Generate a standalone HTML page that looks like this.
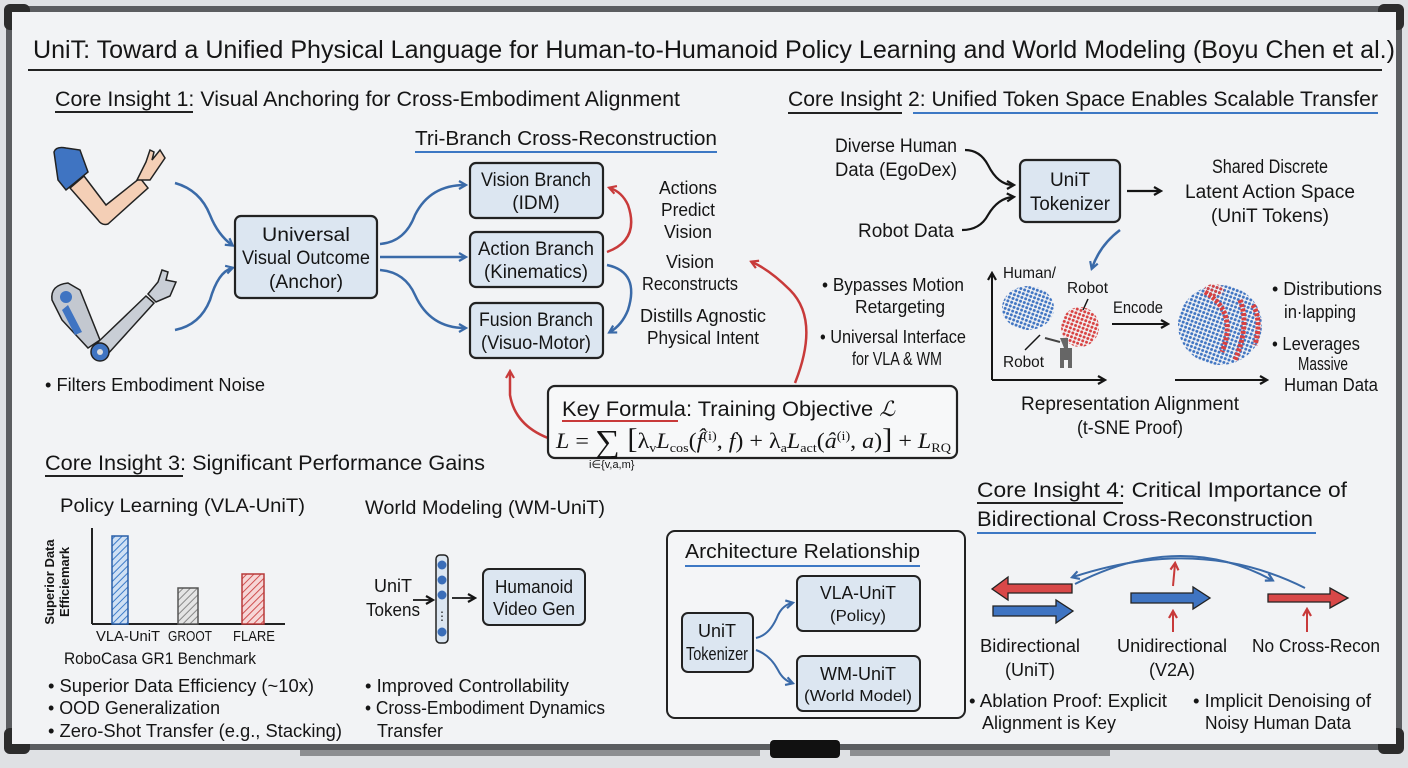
<!DOCTYPE html>
<html><head><meta charset="utf-8"><style>
html,body{margin:0;padding:0;background:#e9ebee;}
svg{display:block;}
text{font-family:"Liberation Sans Narrow","Liberation Sans",sans-serif;fill:#151515;}
</style></head><body>
<svg width="1408" height="768" viewBox="0 0 1408 768" xmlns="http://www.w3.org/2000/svg">
<defs>
<marker id="ab" markerWidth="10" markerHeight="10" refX="7" refY="5" orient="auto" markerUnits="userSpaceOnUse"><path d="M1,1 L8,5 L1,9" fill="none" stroke="#3a6aa8" stroke-width="2.2"/></marker>
<marker id="ar" markerWidth="10" markerHeight="10" refX="7" refY="5" orient="auto" markerUnits="userSpaceOnUse"><path d="M1,1 L8,5 L1,9" fill="none" stroke="#c83a3a" stroke-width="2.2"/></marker>
<marker id="ak" markerWidth="10" markerHeight="10" refX="7" refY="5" orient="auto" markerUnits="userSpaceOnUse"><path d="M1,1 L8,5 L1,9" fill="none" stroke="#151515" stroke-width="2.2"/></marker>
<pattern id="hb" width="5" height="5" patternUnits="userSpaceOnUse" patternTransform="rotate(45)"><rect width="5" height="5" fill="#cfe0f4"/><line x1="0" y1="0" x2="0" y2="5" stroke="#3d7cc9" stroke-width="2"/></pattern>
<pattern id="hg" width="5" height="5" patternUnits="userSpaceOnUse" patternTransform="rotate(45)"><rect width="5" height="5" fill="#e4e4e4"/><line x1="0" y1="0" x2="0" y2="5" stroke="#888" stroke-width="2"/></pattern>
<pattern id="hr" width="5" height="5" patternUnits="userSpaceOnUse" patternTransform="rotate(45)"><rect width="5" height="5" fill="#f6d6d6"/><line x1="0" y1="0" x2="0" y2="5" stroke="#d05050" stroke-width="2"/></pattern>
<pattern id="db" width="4" height="4" patternUnits="userSpaceOnUse" patternTransform="rotate(20)"><circle cx="2" cy="2" r="1.5" fill="#3f74c2"/></pattern>
<pattern id="dr" width="4" height="4" patternUnits="userSpaceOnUse" patternTransform="rotate(20)"><circle cx="2" cy="2" r="1.5" fill="#d84040"/></pattern>
</defs>
<!-- board -->
<rect x="0" y="0" width="1408" height="768" fill="#dfe1e4"/>
<rect x="6" y="6" width="1396" height="744" rx="6" fill="#5b5d60"/>
<rect x="4" y="4" width="26" height="26" rx="6" fill="#2c2c2c"/>
<rect x="1378" y="4" width="26" height="26" rx="6" fill="#2c2c2c"/>
<rect x="4" y="728" width="26" height="26" rx="6" fill="#2c2c2c"/>
<rect x="1378" y="728" width="26" height="26" rx="6" fill="#2c2c2c"/>
<rect x="12" y="12" width="1384" height="732" fill="#f2f3f5"/>
<rect x="300" y="750" width="460" height="6" fill="#8c8e91"/>
<rect x="850" y="750" width="260" height="6" fill="#8c8e91"/>
<rect x="770" y="740" width="70" height="18" rx="4" fill="#111"/>

<!-- title -->
<text x="33" y="58" font-size="25" textLength="1362" lengthAdjust="spacingAndGlyphs">UniT: Toward a Unified Physical Language for Human-to-Humanoid Policy Learning and World Modeling (Boyu Chen et al.)</text>
<line x1="28" y1="70" x2="1382" y2="70" stroke="#222" stroke-width="2"/>

<!-- CI1 -->
<text x="55" y="106" font-size="21" textLength="625" lengthAdjust="spacingAndGlyphs">Core Insight 1: Visual Anchoring for Cross-Embodiment Alignment</text>
<line x1="55" y1="112" x2="193" y2="112" stroke="#222" stroke-width="2"/>
<text x="415" y="145" font-size="20" textLength="302" lengthAdjust="spacingAndGlyphs">Tri-Branch Cross-Reconstruction</text>
<line x1="415" y1="152" x2="717" y2="152" stroke="#3d78c4" stroke-width="2"/>

<!-- human arm -->
<path d="M70,188 L84,176 L106,205 L140,178 L148,188 L108,224 Q102,226 98,220 Z" fill="#f4cfb6" stroke="#222" stroke-width="1.5"/>
<path d="M137,180 L146,162 L150,150 L154,152 L152,160 L160,150 L165,158 L150,180 Z" fill="#f4cfb6" stroke="#222" stroke-width="1.5"/>
<path d="M54,152 Q56,146 66,148 L80,150 L88,172 L66,190 L58,180 Z" fill="#3f74c2" stroke="#222" stroke-width="1.5"/>
<!-- robot arm -->
<path d="M52,300 Q50,285 68,283 L80,290 L100,340 L88,348 L62,320 Z" fill="#c3c8d0" stroke="#222" stroke-width="1.5"/>
<circle cx="66" cy="297" r="6" fill="#3f74c2"/>
<path d="M62,310 L75,335 L82,332 L68,305 Z" fill="#3f74c2"/>
<path d="M96,344 L146,296 L154,303 L106,356 Z" fill="#c9ced6" stroke="#222" stroke-width="1.5"/>
<circle cx="100" cy="352" r="9" fill="#3f74c2" stroke="#222" stroke-width="1.5"/>
<circle cx="100" cy="352" r="3" fill="#ddd"/>
<path d="M148,294 L158,282 L162,270 L168,272 L166,280 L176,282 L170,296 L156,302 Z" fill="#c9ced6" stroke="#222" stroke-width="1.5"/>
<text x="45" y="391" font-size="18" textLength="220" lengthAdjust="spacingAndGlyphs">• Filters Embodiment Noise</text>

<path d="M175,183 Q200,190 210,215 Q218,235 232,245" fill="none" stroke="#3a6aa8" stroke-width="2.5" marker-end="url(#ab)"/>
<path d="M175,330 Q200,325 210,300 Q218,272 232,268" fill="none" stroke="#3a6aa8" stroke-width="2.5" marker-end="url(#ab)"/>

<rect x="235" y="216" width="142" height="82" rx="6" fill="#dce6f1" stroke="#222" stroke-width="2.2"/>
<text x="306" y="241" font-size="19" text-anchor="middle" textLength="88" lengthAdjust="spacingAndGlyphs">Universal</text>
<text x="306" y="264" font-size="19" text-anchor="middle" textLength="128" lengthAdjust="spacingAndGlyphs">Visual Outcome</text>
<text x="306" y="288" font-size="19" text-anchor="middle" textLength="74" lengthAdjust="spacingAndGlyphs">(Anchor)</text>

<rect x="470" y="163" width="133" height="55" rx="6" fill="#dce6f1" stroke="#222" stroke-width="2.2"/>
<text x="536" y="186" font-size="19" text-anchor="middle" textLength="110" lengthAdjust="spacingAndGlyphs">Vision Branch</text>
<text x="536" y="209" font-size="19" text-anchor="middle">(IDM)</text>
<rect x="470" y="232" width="133" height="55" rx="6" fill="#dce6f1" stroke="#222" stroke-width="2.2"/>
<text x="536" y="255" font-size="19" text-anchor="middle" textLength="116" lengthAdjust="spacingAndGlyphs">Action Branch</text>
<text x="536" y="278" font-size="19" text-anchor="middle" textLength="104" lengthAdjust="spacingAndGlyphs">(Kinematics)</text>
<rect x="470" y="303" width="133" height="55" rx="6" fill="#dce6f1" stroke="#222" stroke-width="2.2"/>
<text x="536" y="326" font-size="19" text-anchor="middle" textLength="114" lengthAdjust="spacingAndGlyphs">Fusion Branch</text>
<text x="536" y="349" font-size="19" text-anchor="middle" textLength="110" lengthAdjust="spacingAndGlyphs">(Visuo-Motor)</text>

<path d="M380,244 Q405,242 415,215 Q430,185 465,185" fill="none" stroke="#3a6aa8" stroke-width="2.5" marker-end="url(#ab)"/>
<path d="M380,257 L465,257" fill="none" stroke="#3a6aa8" stroke-width="2.5" marker-end="url(#ab)"/>
<path d="M380,270 Q405,272 415,295 Q430,328 465,328" fill="none" stroke="#3a6aa8" stroke-width="2.5" marker-end="url(#ab)"/>

<path d="M607,252 Q640,240 628,205 Q622,192 610,188" fill="none" stroke="#c83a3a" stroke-width="2.5" marker-end="url(#ar)"/>
<path d="M607,265 Q640,272 628,310 Q622,325 610,332" fill="none" stroke="#3a6aa8" stroke-width="2.5" marker-end="url(#ab)"/>

<g font-size="18" text-anchor="middle">
<text x="688" y="194" textLength="58" lengthAdjust="spacingAndGlyphs">Actions</text><text x="688" y="216" textLength="54" lengthAdjust="spacingAndGlyphs">Predict</text><text x="688" y="238" textLength="48" lengthAdjust="spacingAndGlyphs">Vision</text>
<text x="690" y="268" textLength="48" lengthAdjust="spacingAndGlyphs">Vision</text><text x="690" y="290" textLength="96" lengthAdjust="spacingAndGlyphs">Reconstructs</text>
<text x="703" y="322" textLength="126" lengthAdjust="spacingAndGlyphs">Distills Agnostic</text><text x="703" y="344" textLength="112" lengthAdjust="spacingAndGlyphs">Physical Intent</text>
</g>

<path d="M795,383 Q820,320 790,290 Q770,270 752,262" fill="none" stroke="#c83a3a" stroke-width="2.5" marker-end="url(#ar)"/>
<path d="M548,438 Q515,425 510,395 L510,372" fill="none" stroke="#c83a3a" stroke-width="2.5" marker-end="url(#ar)"/>

<!-- formula -->
<rect x="548" y="386" width="409" height="72" rx="7" fill="#f7f8f9" stroke="#222" stroke-width="2.2"/>
<text x="562" y="416" font-size="21" textLength="333" lengthAdjust="spacingAndGlyphs">Key Formula: Training Objective <tspan font-family="Liberation Serif" font-style="italic">ℒ</tspan></text>
<line x1="562" y1="421" x2="678" y2="421" stroke="#c83a3a" stroke-width="2"/>
<text x="556" y="448" font-size="22" textLength="395" lengthAdjust="spacingAndGlyphs" style="font-family:'Liberation Serif',serif"><tspan font-style="italic">L</tspan> =  <tspan font-size="32" dy="4">∑</tspan><tspan dy="-4" font-size="28">   [</tspan>λ<tspan font-size="13" dy="4">v</tspan><tspan dy="-4" font-style="italic">L</tspan><tspan font-size="13" dy="4">cos</tspan><tspan dy="-4">(</tspan><tspan font-style="italic">f̂</tspan><tspan font-size="13" dy="-8">(i)</tspan><tspan dy="8">, </tspan><tspan font-style="italic">f</tspan>) + λ<tspan font-size="13" dy="4">a</tspan><tspan dy="-4" font-style="italic">L</tspan><tspan font-size="13" dy="4">act</tspan><tspan dy="-4">(</tspan><tspan font-style="italic">â</tspan><tspan font-size="13" dy="-8">(i)</tspan><tspan dy="8">, </tspan><tspan font-style="italic">a</tspan>)<tspan font-size="28">]</tspan> + <tspan font-style="italic">L</tspan><tspan font-size="13" dy="4">RQ</tspan></text>
<text x="589" y="468" font-size="11" style="font-family:'Liberation Sans',sans-serif">i∈{v,a,m}</text>

<!-- CI2 -->
<text x="788" y="106" font-size="21" textLength="590" lengthAdjust="spacingAndGlyphs">Core Insight 2: Unified Token Space Enables Scalable Transfer</text>
<line x1="788" y1="113" x2="902" y2="113" stroke="#222" stroke-width="2"/>
<line x1="913" y1="113" x2="1378" y2="113" stroke="#3d78c4" stroke-width="2"/>

<text x="896" y="152" font-size="19" text-anchor="middle" textLength="122" lengthAdjust="spacingAndGlyphs">Diverse Human</text>
<text x="896" y="176" font-size="19" text-anchor="middle" textLength="122" lengthAdjust="spacingAndGlyphs">Data (EgoDex)</text>
<text x="906" y="237" font-size="19" text-anchor="middle" textLength="96" lengthAdjust="spacingAndGlyphs">Robot Data</text>
<path d="M965,150 Q980,150 988,165 Q998,185 1013,185" fill="none" stroke="#151515" stroke-width="2.2" marker-end="url(#ak)"/>
<path d="M962,230 Q980,230 988,215 Q998,198 1013,197" fill="none" stroke="#151515" stroke-width="2.2" marker-end="url(#ak)"/>
<rect x="1020" y="160" width="100" height="62" rx="6" fill="#dce6f1" stroke="#222" stroke-width="2.2"/>
<text x="1070" y="186" font-size="19" text-anchor="middle">UniT</text>
<text x="1070" y="210" font-size="19" text-anchor="middle" textLength="80" lengthAdjust="spacingAndGlyphs">Tokenizer</text>
<path d="M1127,191 L1160,191" stroke="#151515" stroke-width="2.2" marker-end="url(#ak)"/>
<text x="1270" y="173" font-size="19" text-anchor="middle" textLength="116" lengthAdjust="spacingAndGlyphs">Shared Discrete</text>
<text x="1270" y="198" font-size="19" text-anchor="middle" textLength="170" lengthAdjust="spacingAndGlyphs">Latent Action Space</text>
<text x="1270" y="222" font-size="19" text-anchor="middle" textLength="118" lengthAdjust="spacingAndGlyphs">(UniT Tokens)</text>
<path d="M1120,230 Q1100,245 1092,268" fill="none" stroke="#3a6aa8" stroke-width="2.5" marker-end="url(#ab)"/>

<g font-size="18" text-anchor="middle">
<text x="893" y="291" textLength="142" lengthAdjust="spacingAndGlyphs">• Bypasses Motion</text><text x="900" y="313" textLength="90" lengthAdjust="spacingAndGlyphs">Retargeting</text>
<text x="893" y="343" textLength="146" lengthAdjust="spacingAndGlyphs">• Universal Interface</text><text x="897" y="365" textLength="90" lengthAdjust="spacingAndGlyphs">for VLA &amp; WM</text>
</g>
<path d="M992,380 L992,274" stroke="#151515" stroke-width="2" marker-end="url(#ak)"/>
<path d="M992,380 L1104,380" stroke="#151515" stroke-width="2" marker-end="url(#ak)"/>
<text x="1003" y="278" font-size="16" textLength="53" lengthAdjust="spacingAndGlyphs">Human/</text>
<text x="1067" y="293" font-size="16" textLength="41" lengthAdjust="spacingAndGlyphs">Robot</text>
<text x="1003" y="367" font-size="16" textLength="41" lengthAdjust="spacingAndGlyphs">Robot</text>
<line x1="1088" y1="299" x2="1083" y2="310" stroke="#151515" stroke-width="1.5"/>
<line x1="1025" y1="350" x2="1040" y2="335" stroke="#151515" stroke-width="1.5"/>
<ellipse cx="1028" cy="308" rx="26" ry="22" fill="url(#db)"/>
<ellipse cx="1080" cy="327" rx="19" ry="20" fill="url(#dr)"/>
<path d="M1060,338 l8,0 l0,10 l4,0 l0,20 l-4,0 l0,-8 l-4,0 l0,8 l-4,0 l0,-20 l4,0 z" fill="#666"/>
<line x1="1045" y1="338" x2="1060" y2="342" stroke="#444" stroke-width="2"/>
<text x="1113" y="313" font-size="17" textLength="50" lengthAdjust="spacingAndGlyphs">Encode</text>
<path d="M1112,324 L1167,324" stroke="#151515" stroke-width="2" marker-end="url(#ak)"/>
<ellipse cx="1220" cy="325" rx="42" ry="40" fill="url(#db)"/>
<path d="M1205,292 Q1238,312 1222,352 M1240,300 Q1250,325 1235,360 M1253,305 Q1262,320 1255,345" fill="none" stroke="#d84040" stroke-width="5" stroke-dasharray="3 1.5"/>
<ellipse cx="1214" cy="290" rx="10" ry="6" fill="url(#dr)"/>
<path d="M1175,380 L1266,380" stroke="#151515" stroke-width="2" marker-end="url(#ak)"/>
<g font-size="18">
<text x="1272" y="295" textLength="110" lengthAdjust="spacingAndGlyphs">• Distributions</text><text x="1284" y="318" textLength="72" lengthAdjust="spacingAndGlyphs">in·lapping</text>
<text x="1272" y="350" textLength="88" lengthAdjust="spacingAndGlyphs">• Leverages</text><text x="1298" y="370" textLength="50" lengthAdjust="spacingAndGlyphs">Massive</text><text x="1284" y="391" textLength="94" lengthAdjust="spacingAndGlyphs">Human Data</text>
</g>
<text x="1130" y="410" font-size="19" text-anchor="middle" textLength="218" lengthAdjust="spacingAndGlyphs">Representation Alignment</text>
<text x="1130" y="434" font-size="19" text-anchor="middle" textLength="106" lengthAdjust="spacingAndGlyphs">(t-SNE Proof)</text>

<!-- CI3 -->
<text x="45" y="470" font-size="21" textLength="440" lengthAdjust="spacingAndGlyphs">Core Insight 3: Significant Performance Gains</text>
<line x1="45" y1="476" x2="183" y2="476" stroke="#222" stroke-width="2"/>
<text x="60" y="512" font-size="19" textLength="245" lengthAdjust="spacingAndGlyphs">Policy Learning (VLA-UniT)</text>
<line x1="92" y1="528" x2="92" y2="624" stroke="#222" stroke-width="2"/>
<line x1="92" y1="624" x2="285" y2="624" stroke="#222" stroke-width="2"/>
<rect x="112" y="536" width="16" height="88" fill="url(#hb)" stroke="#2a5fa8" stroke-width="1.5"/>
<rect x="178" y="588" width="20" height="36" fill="url(#hg)" stroke="#555" stroke-width="1.5"/>
<rect x="242" y="574" width="22" height="50" fill="url(#hr)" stroke="#b83a3a" stroke-width="1.5"/>
<text transform="translate(54,582) rotate(-90)" font-size="13" font-weight="bold" text-anchor="middle" style="font-family:'Liberation Sans',sans-serif">Superior Data</text>
<text transform="translate(69,582) rotate(-90)" font-size="13" font-weight="bold" text-anchor="middle" style="font-family:'Liberation Sans',sans-serif">Efficiemark</text>
<g font-size="15" text-anchor="middle">
<text x="128" y="641" textLength="64" lengthAdjust="spacingAndGlyphs">VLA-UniT</text><text x="190" y="641" textLength="44" lengthAdjust="spacingAndGlyphs">GROOT</text><text x="254" y="641" textLength="42" lengthAdjust="spacingAndGlyphs">FLARE</text>
</g>
<text x="160" y="664" font-size="17" text-anchor="middle" textLength="192" lengthAdjust="spacingAndGlyphs">RoboCasa GR1 Benchmark</text>
<g font-size="18">
<text x="48" y="692" textLength="266" lengthAdjust="spacingAndGlyphs">• Superior Data Efficiency (~10x)</text>
<text x="48" y="714" textLength="172" lengthAdjust="spacingAndGlyphs">• OOD Generalization</text>
<text x="48" y="737" textLength="294" lengthAdjust="spacingAndGlyphs">• Zero-Shot Transfer (e.g., Stacking)</text>
</g>

<text x="365" y="514" font-size="19" textLength="240" lengthAdjust="spacingAndGlyphs">World Modeling (WM-UniT)</text>
<text x="393" y="592" font-size="18" text-anchor="middle">UniT</text>
<text x="393" y="616" font-size="18" text-anchor="middle" textLength="54" lengthAdjust="spacingAndGlyphs">Tokens</text>
<path d="M413,600 L432,600" stroke="#151515" stroke-width="1.8" marker-end="url(#ak)"/>
<rect x="436" y="555" width="12" height="88" rx="4" fill="#dce6f1" stroke="#222" stroke-width="1.5"/>
<circle cx="442" cy="565" r="4.5" fill="#3a6db8"/><circle cx="442" cy="580" r="4.5" fill="#3a6db8"/><circle cx="442" cy="595" r="4.5" fill="#3a6db8"/><circle cx="442" cy="632" r="4.5" fill="#3a6db8"/>
<text x="442" y="620" font-size="12" text-anchor="middle">⋮</text>
<path d="M452,598 L474,598" stroke="#151515" stroke-width="1.8" marker-end="url(#ak)"/>
<rect x="483" y="569" width="102" height="56" rx="6" fill="#dce6f1" stroke="#222" stroke-width="2"/>
<text x="534" y="593" font-size="18" text-anchor="middle" textLength="78" lengthAdjust="spacingAndGlyphs">Humanoid</text>
<text x="534" y="615" font-size="18" text-anchor="middle" textLength="82" lengthAdjust="spacingAndGlyphs">Video Gen</text>
<g font-size="18">
<text x="365" y="692" textLength="204" lengthAdjust="spacingAndGlyphs">• Improved Controllability</text>
<text x="365" y="714" textLength="240" lengthAdjust="spacingAndGlyphs">• Cross-Embodiment Dynamics</text>
<text x="377" y="737" textLength="66" lengthAdjust="spacingAndGlyphs">Transfer</text>
</g>

<rect x="667" y="531" width="298" height="187" rx="8" fill="#f4f5f7" stroke="#222" stroke-width="2"/>
<text x="685" y="558" font-size="20" textLength="235" lengthAdjust="spacingAndGlyphs">Architecture Relationship</text>
<line x1="685" y1="566" x2="920" y2="566" stroke="#3d78c4" stroke-width="2"/>
<rect x="682" y="613" width="71" height="59" rx="6" fill="#dce6f1" stroke="#222" stroke-width="2"/>
<text x="717" y="637" font-size="18" text-anchor="middle">UniT</text>
<text x="717" y="660" font-size="18" text-anchor="middle" textLength="62" lengthAdjust="spacingAndGlyphs">Tokenizer</text>
<rect x="797" y="576" width="123" height="55" rx="6" fill="#dce6f1" stroke="#222" stroke-width="2"/>
<text x="858" y="599" font-size="18" text-anchor="middle" textLength="76" lengthAdjust="spacingAndGlyphs">VLA-UniT</text>
<text x="858" y="621" font-size="16" text-anchor="middle" textLength="56" lengthAdjust="spacingAndGlyphs">(Policy)</text>
<rect x="797" y="656" width="123" height="55" rx="6" fill="#dce6f1" stroke="#222" stroke-width="2"/>
<text x="858" y="680" font-size="18" text-anchor="middle" textLength="76" lengthAdjust="spacingAndGlyphs">WM-UniT</text>
<text x="858" y="701" font-size="16" text-anchor="middle" textLength="108" lengthAdjust="spacingAndGlyphs">(World Model)</text>
<path d="M756,638 Q770,635 778,615 Q783,605 792,603" fill="none" stroke="#3a6aa8" stroke-width="2" marker-end="url(#ab)"/>
<path d="M756,650 Q770,655 778,670 Q783,680 792,683" fill="none" stroke="#3a6aa8" stroke-width="2" marker-end="url(#ab)"/>

<!-- CI4 -->
<text x="977" y="497" font-size="21" textLength="370" lengthAdjust="spacingAndGlyphs">Core Insight 4: Critical Importance of</text>
<line x1="977" y1="503" x2="1123" y2="503" stroke="#222" stroke-width="2"/>
<text x="977" y="526" font-size="21" textLength="336" lengthAdjust="spacingAndGlyphs">Bidirectional Cross-Reconstruction</text>
<line x1="977" y1="533" x2="1316" y2="533" stroke="#3d78c4" stroke-width="2"/>

<path d="M1072,584 L1008,584 L1008,577 L992,589 L1008,600 L1008,593 L1072,593 Z" fill="#d84848" stroke="#222" stroke-width="1.3"/>
<path d="M993,606 L1056,606 L1056,600 L1073,611 L1056,623 L1056,616 L993,616 Z" fill="#3f74c2" stroke="#222" stroke-width="1.3"/>
<path d="M1131,593 L1193,593 L1193,587 L1210,598 L1193,609 L1193,603 L1131,603 Z" fill="#3f74c2" stroke="#222" stroke-width="1.3"/>
<path d="M1268,594 L1330,594 L1330,588 L1348,598 L1330,608 L1330,602 L1268,602 Z" fill="#d84848" stroke="#222" stroke-width="1.3"/>
<path d="M1075,584 Q1180,530 1272,580" fill="none" stroke="#3a6aa8" stroke-width="2" marker-end="url(#ab)"/>
<path d="M1305,588 Q1200,535 1073,577" fill="none" stroke="#3a6aa8" stroke-width="2" marker-end="url(#ab)"/>
<path d="M1173,586 L1175,564" stroke="#c83a3a" stroke-width="2" marker-end="url(#ar)"/>
<path d="M1173,632 L1173,612" stroke="#c83a3a" stroke-width="2" marker-end="url(#ar)"/>
<path d="M1307,632 L1307,610" stroke="#c83a3a" stroke-width="2" marker-end="url(#ar)"/>
<g font-size="18" text-anchor="middle">
<text x="1030" y="652" textLength="100" lengthAdjust="spacingAndGlyphs">Bidirectional</text><text x="1030" y="676">(UniT)</text>
<text x="1172" y="652" textLength="110" lengthAdjust="spacingAndGlyphs">Unidirectional</text><text x="1172" y="676">(V2A)</text>
<text x="1316" y="652" textLength="128" lengthAdjust="spacingAndGlyphs">No Cross-Recon</text>
</g>
<g font-size="18">
<text x="969" y="707" textLength="198" lengthAdjust="spacingAndGlyphs">• Ablation Proof: Explicit</text><text x="982" y="729" textLength="134" lengthAdjust="spacingAndGlyphs">Alignment is Key</text>
<text x="1193" y="707" textLength="178" lengthAdjust="spacingAndGlyphs">• Implicit Denoising of</text><text x="1205" y="729" textLength="146" lengthAdjust="spacingAndGlyphs">Noisy Human Data</text>
</g>
</svg>
</body></html>
